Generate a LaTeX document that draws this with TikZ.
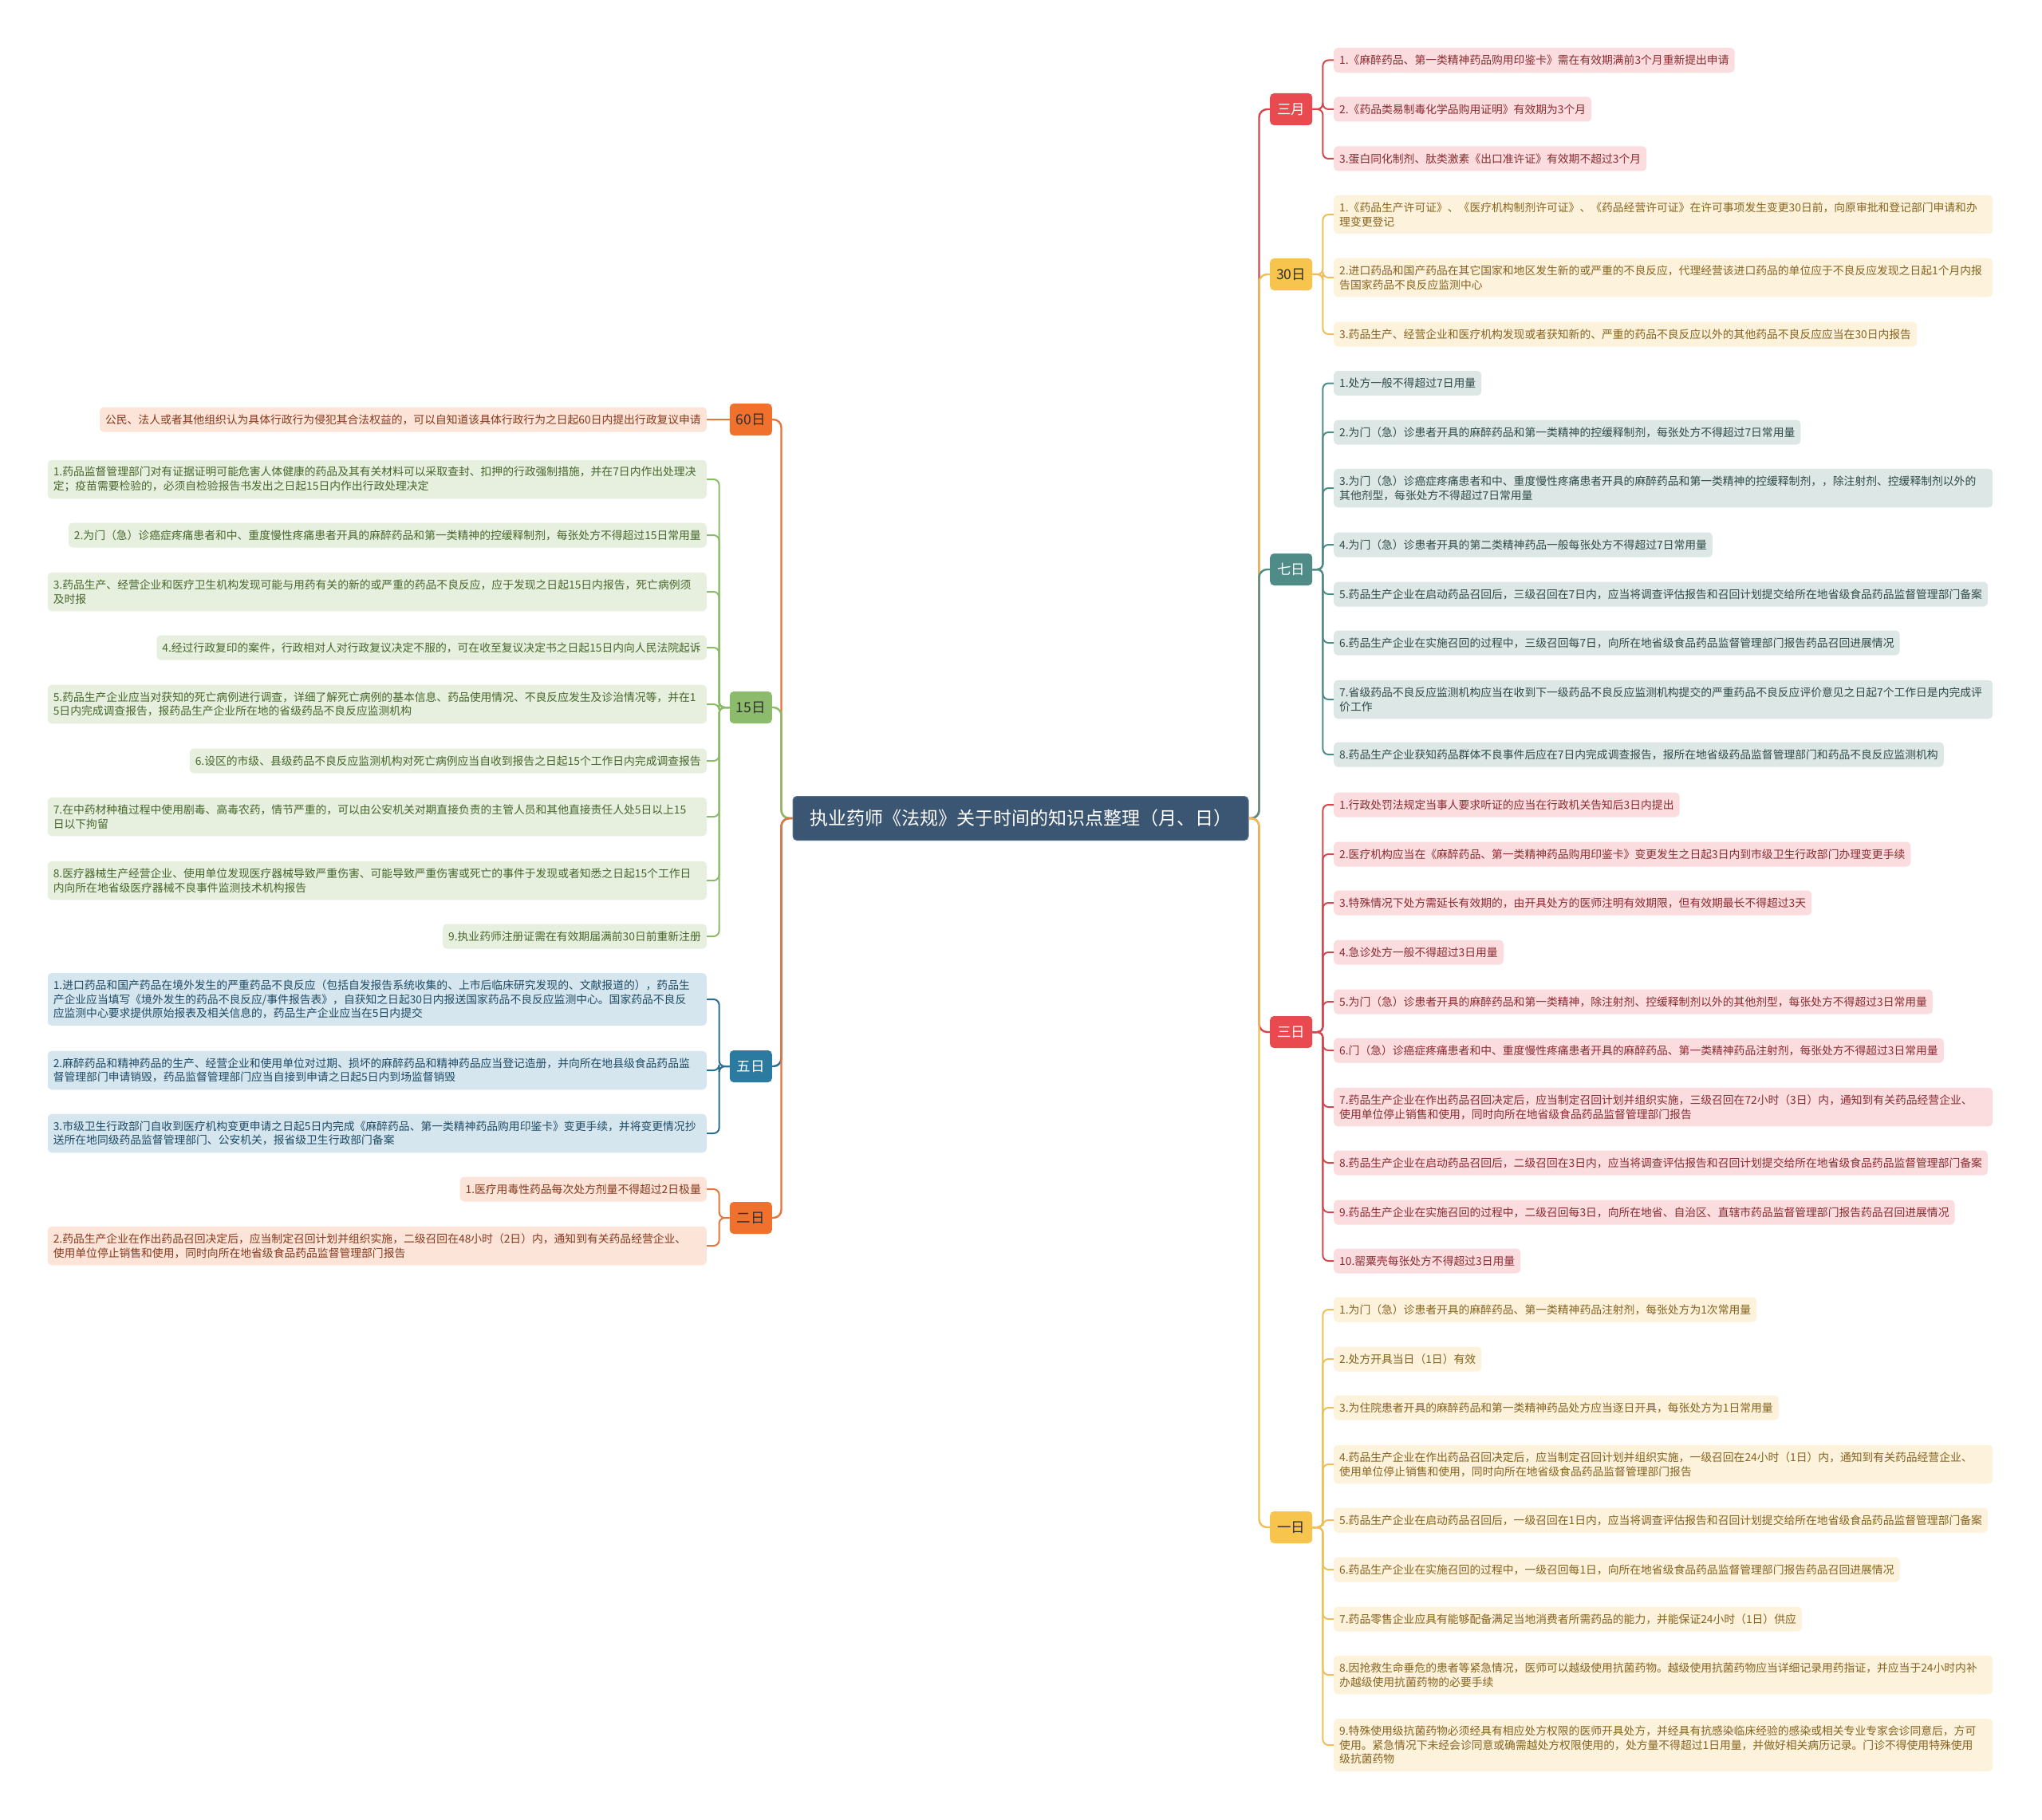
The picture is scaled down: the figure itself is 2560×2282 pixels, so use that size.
\documentclass[tikz,border=0pt]{standalone}
\usepackage{fontspec}
\setmainfont{Noto Sans CJK SC}
\definecolor{rootc}{HTML}{3B5672}
\definecolor{rootb}{HTML}{56728F}
\definecolor{redN}{HTML}{E94A50}
\definecolor{redLn}{HTML}{D6464C}
\definecolor{redF}{HTML}{FBDDE0}
\definecolor{redT}{HTML}{8A2B2F}
\definecolor{goldN}{HTML}{F7C54D}
\definecolor{goldLn}{HTML}{EFBF57}
\definecolor{goldF}{HTML}{FDF2DB}
\definecolor{goldT}{HTML}{86631F}
\definecolor{tealN}{HTML}{4F8B87}
\definecolor{tealLn}{HTML}{4F8B87}
\definecolor{tealF}{HTML}{DDE8E6}
\definecolor{tealT}{HTML}{2E4A48}
\definecolor{orN}{HTML}{F0712E}
\definecolor{orLn}{HTML}{E6763A}
\definecolor{orF}{HTML}{FCE4D8}
\definecolor{orT}{HTML}{86391C}
\definecolor{grN}{HTML}{8DBB6C}
\definecolor{grLn}{HTML}{8CBA6B}
\definecolor{grF}{HTML}{E7F0DF}
\definecolor{grT}{HTML}{46662A}
\definecolor{blN}{HTML}{2B7BA0}
\definecolor{blLn}{HTML}{2B6F90}
\definecolor{blF}{HTML}{D5E6EE}
\definecolor{blT}{HTML}{1E4B66}
\definecolor{darkT}{HTML}{2E2E2E}
\begin{document}
\begin{tikzpicture}[x=1pt,y=-1pt,
  rootbox/.style={fill=rootc, draw=rootb, line width=1, rounded corners=5, text=white,
    font=\fontsize{23}{28}\selectfont, minimum width=571, minimum height=55, inner sep=0},
  branch/.style={rounded corners=5, minimum width=53, minimum height=40, inner xsep=8, inner ysep=0,
    font=\fontsize{17.5}{20}\selectfont},
  leaf/.style={rounded corners=5, inner xsep=7, inner ysep=2, minimum height=31, align=left,
    font=\fontsize{13.8}{17.7}\selectfont},
  two/.style={minimum height=48.5, text width=812},
  three/.style={minimum height=66, text width=812},
  conn/.style={line width=2, rounded corners=7},
  rconn/.style={line width=2.4, rounded corners=10},
  redB/.style={branch, fill=redN, text=white},
  redL/.style={leaf, fill=redF, text=redT},
  goldB/.style={branch, fill=goldN, text=darkT},
  goldL/.style={leaf, fill=goldF, text=goldT},
  tealB/.style={branch, fill=tealN, text=white},
  tealL/.style={leaf, fill=tealF, text=tealT},
  orB/.style={branch, fill=orN, text=darkT},
  orL/.style={leaf, fill=orF, text=orT},
  grB/.style={branch, fill=grN, text=darkT},
  grL/.style={leaf, fill=grF, text=grT},
  blB/.style={branch, fill=blN, text=white},
  blL/.style={leaf, fill=blF, text=blT},
  RL/.style={anchor=west},
  LL/.style={anchor=east}
]
\fill[white] (0,0) rectangle (2560,2282);
\useasboundingbox (0,0) rectangle (2560,2282);

% root
\node[rootbox] (root) at (1279.5,1026) {执业药师《法规》关于时间的知识点整理（月、日）};

% ---------- right branches ----------
\node[redB, anchor=west] (sy) at (1592,137) {三月};
\node[goldB, anchor=west] (sr) at (1592,344) {30日};
\node[tealB, anchor=west] (qr) at (1592,714) {七日};
\node[redB, anchor=west] (sd) at (1592,1294) {三日};
\node[goldB, anchor=west] (yr) at (1592,1915) {一日};

% ---------- left branches ----------
\node[orB, anchor=east] (l60) at (968,526) {60日};
\node[grB, anchor=east] (l15) at (968,887) {15日};
\node[blB, anchor=east] (wr) at (968,1337) {五日};
\node[orB, anchor=east] (er) at (968,1527) {二日};

% ---------- 三月 ----------
\node[redL,RL] (sy1) at (1672,75.5) {1.《麻醉药品、第一类精神药品购用印鉴卡》需在有效期满前3个月重新提出申请};
\node[redL,RL] (sy2) at (1672,137) {2.《药品类易制毒化学品购用证明》有效期为3个月};
\node[redL,RL] (sy3) at (1672,199) {3.蛋白同化制剂、肽类激素《出口准许证》有效期不超过3个月};

% ---------- 30日 ----------
\node[goldL,two,RL] (sr1) at (1672,269) {1.《药品生产许可证》、《医疗机构制剂许可证》、《药品经营许可证》在许可事项发生变更30日前，向原审批和登记部门申请和办\\理变更登记};
\node[goldL,two,RL] (sr2) at (1672,348) {2.进口药品和国产药品在其它国家和地区发生新的或严重的不良反应，代理经营该进口药品的单位应于不良反应发现之日起1个月内报\\告国家药品不良反应监测中心};
\node[goldL,RL] (sr3) at (1672,419) {3.药品生产、经营企业和医疗机构发现或者获知新的、严重的药品不良反应以外的其他药品不良反应应当在30日内报告};

% ---------- 七日 ----------
\node[tealL,RL] (qr1) at (1672,480.5) {1.处方一般不得超过7日用量};
\node[tealL,RL] (qr2) at (1672,542) {2.为门（急）诊患者开具的麻醉药品和第一类精神的控缓释制剂，每张处方不得超过7日常用量};
\node[tealL,two,RL] (qr3) at (1672,612) {3.为门（急）诊癌症疼痛患者和中、重度慢性疼痛患者开具的麻醉药品和第一类精神的控缓释制剂，，除注射剂、控缓释制剂以外的\\其他剂型，每张处方不得超过7日常用量};
\node[tealL,RL] (qr4) at (1672,683) {4.为门（急）诊患者开具的第二类精神药品一般每张处方不得超过7日常用量};
\node[tealL,RL] (qr5) at (1672,745) {5.药品生产企业在启动药品召回后，三级召回在7日内，应当将调查评估报告和召回计划提交给所在地省级食品药品监督管理部门备案};
\node[tealL,RL] (qr6) at (1672,806) {6.药品生产企业在实施召回的过程中，三级召回每7日，向所在地省级食品药品监督管理部门报告药品召回进展情况};
\node[tealL,two,RL] (qr7) at (1672,877) {7.省级药品不良反应监测机构应当在收到下一级药品不良反应监测机构提交的严重药品不良反应评价意见之日起7个工作日是内完成评\\价工作};
\node[tealL,RL] (qr8) at (1672,946) {8.药品生产企业获知药品群体不良事件后应在7日内完成调查报告，报所在地省级药品监督管理部门和药品不良反应监测机构};

% ---------- 三日 ----------
\node[redL,RL] (sd1) at (1672,1009) {1.行政处罚法规定当事人要求听证的应当在行政机关告知后3日内提出};
\node[redL,RL] (sd2) at (1672,1071) {2.医疗机构应当在《麻醉药品、第一类精神药品购用印鉴卡》变更发生之日起3日内到市级卫生行政部门办理变更手续};
\node[redL,RL] (sd3) at (1672,1132) {3.特殊情况下处方需延长有效期的，由开具处方的医师注明有效期限，但有效期最长不得超过3天};
\node[redL,RL] (sd4) at (1672,1194) {4.急诊处方一般不得超过3日用量};
\node[redL,RL] (sd5) at (1672,1256) {5.为门（急）诊患者开具的麻醉药品和第一类精神，除注射剂、控缓释制剂以外的其他剂型，每张处方不得超过3日常用量};
\node[redL,RL] (sd6) at (1672,1317) {6.门（急）诊癌症疼痛患者和中、重度慢性疼痛患者开具的麻醉药品、第一类精神药品注射剂，每张处方不得超过3日常用量};
\node[redL,two,RL] (sd7) at (1672,1388) {7.药品生产企业在作出药品召回决定后，应当制定召回计划并组织实施，三级召回在72小时（3日）内，通知到有关药品经营企业、\\使用单位停止销售和使用，同时向所在地省级食品药品监督管理部门报告};
\node[redL,RL] (sd8) at (1672,1458) {8.药品生产企业在启动药品召回后，二级召回在3日内，应当将调查评估报告和召回计划提交给所在地省级食品药品监督管理部门备案};
\node[redL,RL] (sd9) at (1672,1520) {9.药品生产企业在实施召回的过程中，二级召回每3日，向所在地省、自治区、直辖市药品监督管理部门报告药品召回进展情况};
\node[redL,RL] (sd10) at (1672,1581) {10.罂粟壳每张处方不得超过3日用量};

% ---------- 一日 ----------
\node[goldL,RL] (yr1) at (1672,1642) {1.为门（急）诊患者开具的麻醉药品、第一类精神药品注射剂，每张处方为1次常用量};
\node[goldL,RL] (yr2) at (1672,1704) {2.处方开具当日（1日）有效};
\node[goldL,RL] (yr3) at (1672,1765) {3.为住院患者开具的麻醉药品和第一类精神药品处方应当逐日开具，每张处方为1日常用量};
\node[goldL,two,RL] (yr4) at (1672,1836) {4.药品生产企业在作出药品召回决定后，应当制定召回计划并组织实施，一级召回在24小时（1日）内，通知到有关药品经营企业、\\使用单位停止销售和使用，同时向所在地省级食品药品监督管理部门报告};
\node[goldL,RL] (yr5) at (1672,1906) {5.药品生产企业在启动药品召回后，一级召回在1日内，应当将调查评估报告和召回计划提交给所在地省级食品药品监督管理部门备案};
\node[goldL,RL] (yr6) at (1672,1968) {6.药品生产企业在实施召回的过程中，一级召回每1日，向所在地省级食品药品监督管理部门报告药品召回进展情况};
\node[goldL,RL] (yr7) at (1672,2030) {7.药品零售企业应具有能够配备满足当地消费者所需药品的能力，并能保证24小时（1日）供应};
\node[goldL,two,RL] (yr8) at (1672,2100) {8.因抢救生命垂危的患者等紧急情况，医师可以越级使用抗菌药物。越级使用抗菌药物应当详细记录用药指证，并应当于24小时内补\\办越级使用抗菌药物的必要手续};
\node[goldL,three,RL] (yr9) at (1672,2188) {9.特殊使用级抗菌药物必须经具有相应处方权限的医师开具处方，并经具有抗感染临床经验的感染或相关专业专家会诊同意后，方可\\使用。紧急情况下未经会诊同意或确需越处方权限使用的，处方量不得超过1日用量，并做好相关病历记录。门诊不得使用特殊使用\\级抗菌药物};

% ---------- 60日 ----------
\node[orL,LL] (a1) at (886,526) {公民、法人或者其他组织认为具体行政行为侵犯其合法权益的，可以自知道该具体行政行为之日起60日内提出行政复议申请};

% ---------- 15日 ----------
\node[grL,two,LL] (b1) at (886,601) {1.药品监督管理部门对有证据证明可能危害人体健康的药品及其有关材料可以采取查封、扣押的行政强制措施，并在7日内作出处理决\\定；疫苗需要检验的，必须自检验报告书发出之日起15日内作出行政处理决定};
\node[grL,LL] (b2) at (886,671) {2.为门（急）诊癌症疼痛患者和中、重度慢性疼痛患者开具的麻醉药品和第一类精神的控缓释制剂，每张处方不得超过15日常用量};
\node[grL,two,LL] (b3) at (886,742) {3.药品生产、经营企业和医疗卫生机构发现可能与用药有关的新的或严重的药品不良反应，应于发现之日起15日内报告，死亡病例须\\及时报};
\node[grL,LL] (b4) at (886,812) {4.经过行政复印的案件，行政相对人对行政复议决定不服的，可在收至复议决定书之日起15日内向人民法院起诉};
\node[grL,two,LL] (b5) at (886,883) {5.药品生产企业应当对获知的死亡病例进行调查，详细了解死亡病例的基本信息、药品使用情况、不良反应发生及诊治情况等，并在1\\5日内完成调查报告，报药品生产企业所在地的省级药品不良反应监测机构};
\node[grL,LL] (b6) at (886,954) {6.设区的市级、县级药品不良反应监测机构对死亡病例应当自收到报告之日起15个工作日内完成调查报告};
\node[grL,two,LL] (b7) at (886,1024) {7.在中药材种植过程中使用剧毒、高毒农药，情节严重的，可以由公安机关对期直接负责的主管人员和其他直接责任人处5日以上15\\日以下拘留};
\node[grL,two,LL] (b8) at (886,1104) {8.医疗器械生产经营企业、使用单位发现医疗器械导致严重伤害、可能导致严重伤害或死亡的事件于发现或者知悉之日起15个工作日\\内向所在地省级医疗器械不良事件监测技术机构报告};
\node[grL,LL] (b9) at (886,1174) {9.执业药师注册证需在有效期届满前30日前重新注册};

% ---------- 五日 ----------
\node[blL,three,LL] (c1) at (886,1253) {1.进口药品和国产药品在境外发生的严重药品不良反应（包括自发报告系统收集的、上市后临床研究发现的、文献报道的），药品生\\产企业应当填写《境外发生的药品不良反应/事件报告表》，自获知之日起30日内报送国家药品不良反应监测中心。国家药品不良反\\应监测中心要求提供原始报表及相关信息的，药品生产企业应当在5日内提交};
\node[blL,two,LL] (c2) at (886,1342) {2.麻醉药品和精神药品的生产、经营企业和使用单位对过期、损坏的麻醉药品和精神药品应当登记造册，并向所在地县级食品药品监\\督管理部门申请销毁，药品监督管理部门应当自接到申请之日起5日内到场监督销毁};
\node[blL,two,LL] (c3) at (886,1421) {3.市级卫生行政部门自收到医疗机构变更申请之日起5日内完成《麻醉药品、第一类精神药品购用印鉴卡》变更手续，并将变更情况抄\\送所在地同级药品监督管理部门、公安机关，报省级卫生行政部门备案};

% ---------- 二日 ----------
\node[orL,LL] (d1) at (886,1491) {1.医疗用毒性药品每次处方剂量不得超过2日极量};
\node[orL,two,LL] (d2) at (886,1562) {2.药品生产企业在作出药品召回决定后，应当制定召回计划并组织实施，二级召回在48小时（2日）内，通知到有关药品经营企业、\\使用单位停止销售和使用，同时向所在地省级食品药品监督管理部门报告};

% ---------- root connectors ----------
\draw[rconn, draw=redLn]  (root.east) -- ++(13,0) |- (sy.west);
\draw[rconn, draw=goldLn] (root.east) -- ++(13,0) |- (sr.west);
\draw[rconn, draw=tealLn] (root.east) -- ++(13,0) |- (qr.west);
\draw[rconn, draw=redLn]  (root.east) -- ++(13,0) |- (sd.west);
\draw[rconn, draw=goldLn] (root.east) -- ++(13,0) |- (yr.west);
\draw[rconn, draw=orLn]   (root.west) -- ++(-14,0) |- (l60.east);
\draw[rconn, draw=grLn]   (root.west) -- ++(-14,0) |- (l15.east);
\draw[rconn, draw=blLn]   (root.west) -- ++(-14,0) |- (wr.east);
\draw[rconn, draw=orLn]   (root.west) -- ++(-14,0) |- (er.east);

% ---------- leaf connectors right ----------
\foreach \n in {sy1,sy2,sy3} \draw[conn, draw=redLn] (sy.east) -- ++(13,0) |- (\n.west);
\foreach \n in {sr1,sr2,sr3} \draw[conn, draw=goldLn] (sr.east) -- ++(13,0) |- (\n.west);
\foreach \n in {qr1,qr2,qr3,qr4,qr5,qr6,qr7,qr8} \draw[conn, draw=tealLn] (qr.east) -- ++(13,0) |- (\n.west);
\foreach \n in {sd1,sd2,sd3,sd4,sd5,sd6,sd7,sd8,sd9,sd10} \draw[conn, draw=redLn] (sd.east) -- ++(13,0) |- (\n.west);
\foreach \n in {yr1,yr2,yr3,yr4,yr5,yr6,yr7,yr8,yr9} \draw[conn, draw=goldLn] (yr.east) -- ++(13,0) |- (\n.west);

% ---------- leaf connectors left ----------
\draw[conn, draw=orLn] (l60.west) -- (a1.east);
\foreach \n in {b1,b2,b3,b4,b5,b6,b7,b8,b9} \draw[conn, draw=grLn] (l15.west) -- ++(-13,0) |- (\n.east);
\foreach \n in {c1,c2,c3} \draw[conn, draw=blLn] (wr.west) -- ++(-13,0) |- (\n.east);
\foreach \n in {d1,d2} \draw[conn, draw=orLn] (er.west) -- ++(-13,0) |- (\n.east);
\end{tikzpicture}
\end{document}
